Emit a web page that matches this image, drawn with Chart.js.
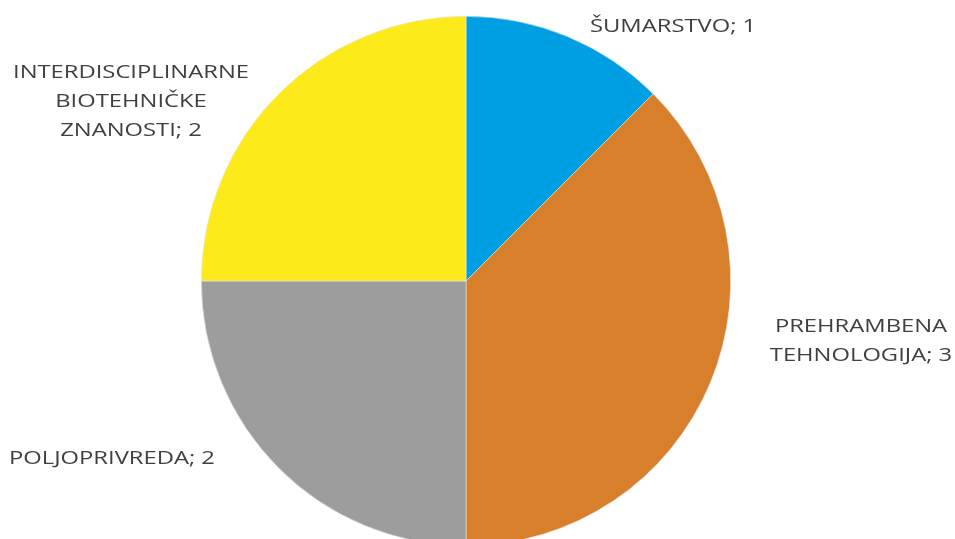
<!DOCTYPE html>
<html>
<head>
<meta charset="utf-8">
<script src="https://cdn.jsdelivr.net/npm/chart.js@4.4.1/dist/chart.umd.min.js"></script>
<style>
  html, body { margin: 0; padding: 0; background: #fff; overflow: hidden; }
  #wrap { width: 955px; height: 562px; }
</style>
</head>
<body>
<div id="wrap"><canvas id="myChart"></canvas></div>
<script>
// data
var categories = ["ŠUMARSTVO", "PREHRAMBENA TEHNOLOGIJA", "POLJOPRIVREDA", "INTERDISCIPLINARNE BIOTEHNIČKE ZNANOSTI"];
var values = [1, 3, 2, 2];
var colors = ["#009FE3", "#D77F2A", "#9D9D9D", "#FDEA1A"];

// label text split in lines, with where they sit
var labelLines = [
  ["ŠUMARSTVO; 1"],
  ["PREHRAMBENA", "TEHNOLOGIJA; 3"],
  ["POLJOPRIVREDA; 2"],
  ["INTERDISCIPLINARNE", "BIOTEHNIČKE", "ZNANOSTI; 2"]
];
var labelPos = [
  { x: 590, y: 27, align: "left" },
  { x: 861, y: 327, align: "center" },
  { x: 9, y: 459, align: "left" },
  { x: 131, y: 73, align: "center" }
];

// the reference font is wide (Montserrat-like), so stretch a bit
var stretch = 1.32;

var labelPlugin = {
  id: "outsideLabels",
  afterDraw: function (chart) {
    var ctx = chart.ctx;
    ctx.fillStyle = "#404040";
    ctx.font = "400 18px 'Open Sans'";
    ctx.textBaseline = "middle";
    labelLines.forEach(function (lines, i) {
      var p = labelPos[i];
      lines.forEach(function (t, j) {
        ctx.save();
        ctx.translate(p.x, p.y + j * 29);
        ctx.scale(stretch, 1);
        ctx.textAlign = p.align;
        ctx.fillText(t, 0, 0);
        ctx.restore();
      });
    });
  }
};

var ctx = document.getElementById("myChart").getContext("2d");
var myChart = new Chart(ctx, {
  type: "pie",
  data: {
    labels: categories,
    datasets: [
      {
        data: values,
        backgroundColor: colors,
        borderColor: "#e8e8e8",
        borderWidth: 0.6,
      },
    ],
  },
  options: {
    responsive: true,
    maintainAspectRatio: false,
    animation: false,
    layout: { padding: { top: 16, bottom: 16, left: 0, right: 23 } },
    plugins: {
      legend: { display: false },
      tooltip: { enabled: false },
    },
  },
  plugins: [labelPlugin],
});
</script>
</body>
</html>
